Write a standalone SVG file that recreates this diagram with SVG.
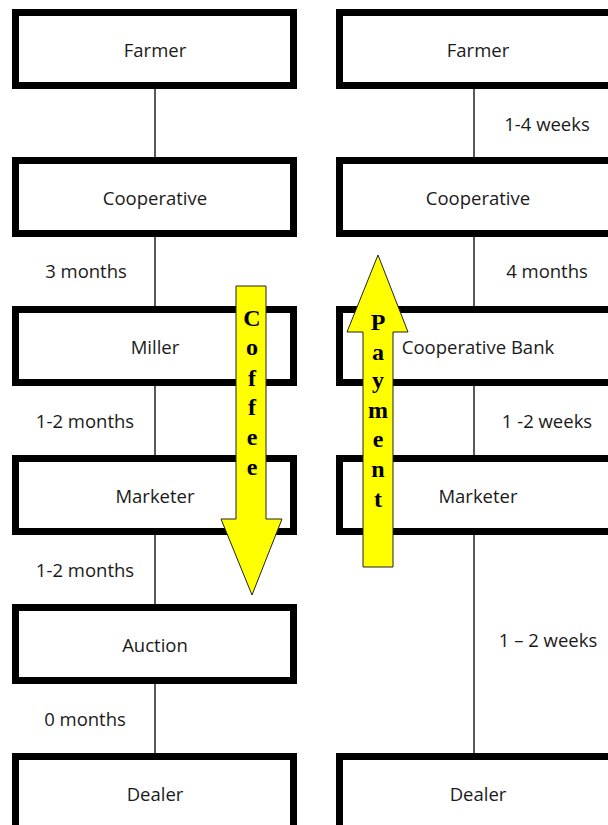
<svg xmlns="http://www.w3.org/2000/svg" width="608" height="825" viewBox="0 0 608 825">
<style>
.box{fill:#fff;stroke:#000;stroke-width:7}
.lbl{font-family:"Open Sans","Noto Sans",sans-serif;font-size:18.5px;fill:#1a1a1a;text-anchor:middle}
.con{stroke:#000;stroke-width:1.3;fill:none}
.arr{fill:#ffff00;stroke:#222;stroke-width:1}
.al{font-family:"Liberation Serif",serif;font-weight:bold;font-size:24px;fill:#000;text-anchor:middle}
</style>
<rect width="608" height="825" fill="#fff"/>
<g id="connectors">
<line class="con" x1="155" y1="89" x2="155" y2="157"/>
<line class="con" x1="155" y1="237" x2="155" y2="306"/>
<line class="con" x1="155" y1="386" x2="155" y2="455"/>
<line class="con" x1="155" y1="535" x2="155" y2="604"/>
<line class="con" x1="155" y1="684" x2="155" y2="753"/>
<line class="con" x1="474" y1="89" x2="474" y2="157"/>
<line class="con" x1="474" y1="237" x2="474" y2="306"/>
<line class="con" x1="474" y1="386" x2="474" y2="455"/>
<line class="con" x1="474" y1="535" x2="474" y2="753"/>
<text class="lbl" x="86" y="278">3 months</text>
<text class="lbl" x="85" y="428">1-2 months</text>
<text class="lbl" x="85" y="577">1-2 months</text>
<text class="lbl" x="85" y="726">0 months</text>
<text class="lbl" x="547" y="131">1-4 weeks</text>
<text class="lbl" x="547" y="278">4 months</text>
<text class="lbl" x="547" y="428">1 -2 weeks</text>
<text class="lbl" x="548" y="647">1 – 2 weeks</text>
</g>
<g id="l-farmer"><rect class="box" x="15.5" y="12.5" width="278" height="73"/><text class="lbl" x="155" y="57">Farmer</text></g>
<g id="l-coop"><rect class="box" x="15.5" y="160.5" width="278" height="73"/><text class="lbl" x="155" y="205">Cooperative</text></g>
<g id="l-miller"><rect class="box" x="15.5" y="309.5" width="278" height="73"/><text class="lbl" x="155" y="354">Miller</text></g>
<g id="l-marketer"><rect class="box" x="15.5" y="458.5" width="278" height="73"/><text class="lbl" x="155" y="503">Marketer</text></g>
<g id="l-auction"><rect class="box" x="15.5" y="607.5" width="278" height="73"/><text class="lbl" x="155" y="652">Auction</text></g>
<g id="l-dealer"><rect class="box" x="15.5" y="756.5" width="278" height="73"/><text class="lbl" x="155" y="801">Dealer</text></g>
<g id="r-farmer"><rect class="box" x="339.5" y="12.5" width="290" height="73"/><text class="lbl" x="478" y="57">Farmer</text></g>
<g id="r-coop"><rect class="box" x="339.5" y="160.5" width="290" height="73"/><text class="lbl" x="478" y="205">Cooperative</text></g>
<g id="r-bank"><rect class="box" x="339.5" y="309.5" width="290" height="73"/><text class="lbl" x="478" y="354">Cooperative Bank</text></g>
<g id="r-marketer"><rect class="box" x="339.5" y="458.5" width="290" height="73"/><text class="lbl" x="478" y="503">Marketer</text></g>
<g id="r-dealer"><rect class="box" x="339.5" y="756.5" width="290" height="73"/><text class="lbl" x="478" y="801">Dealer</text></g>
<g id="coffee-arrow">
<polygon class="arr" points="236,286 266,286 266,519 282,519 252,595 221,519 236,519"/>
<text class="al" x="252" y="326">C</text>
<text class="al" x="252" y="355">o</text>
<text class="al" x="252" y="386">f</text>
<text class="al" x="252" y="415">f</text>
<text class="al" x="252" y="445">e</text>
<text class="al" x="252" y="475">e</text>
</g>
<g id="payment-arrow">
<polygon class="arr" points="378,255 408,332 393,332 393,567 363,567 363,332 347,332"/>
<text class="al" x="378" y="330">P</text>
<text class="al" x="378" y="360">a</text>
<text class="al" x="378" y="388">y</text>
<text class="al" x="378" y="418">m</text>
<text class="al" x="378" y="447">e</text>
<text class="al" x="378" y="477">n</text>
<text class="al" x="378" y="507">t</text>
</g>
</svg>
